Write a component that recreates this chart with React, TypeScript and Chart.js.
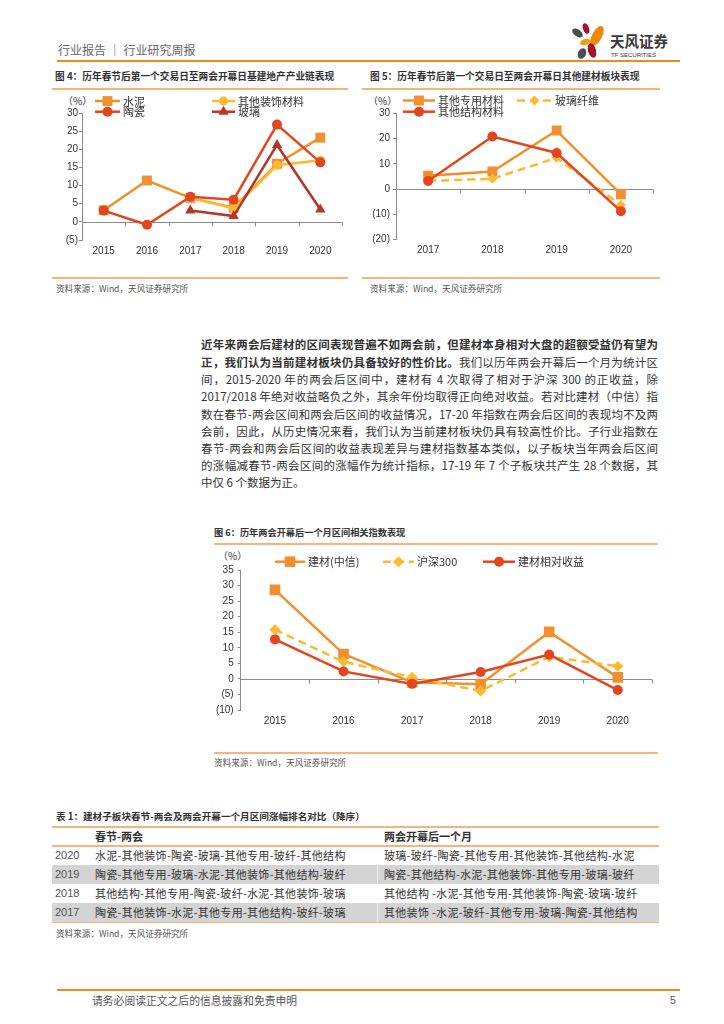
import React, { useEffect, useRef } from 'react';
import { Chart, registerables } from 'chart.js';

Chart.register(...registerables);

// ---------------- data ----------------
const YEARS_6 = ['2015', '2016', '2017', '2018', '2019', '2020'];
const YEARS_4 = ['2017', '2018', '2019', '2020'];

// Figure 4
const CEMENT = [3.2, 11.4, 6.6, 3.9, 16.0, 23.2];
const DECOR = [null, null, 6.6, 3.7, 15.6, 17.0];
const CERAMIC = [3.1, -0.8, 6.9, 6.1, 26.8, 16.4];
const GLASS = [null, null, 3.1, 1.6, 21.2, 3.4];

// Figure 5
const SPECIAL = [5.3, 7.0, 23.2, -2.0];
const FIBER = [3.3, 4.1, 12.4, -6.3];
const STRUCT = [3.2, 20.8, 14.3, -8.7];

// Figure 6
const BM_CITIC = [28.6, 8.0, -1.1, -1.7, 15.1, 0.5];
const HS300 = [15.8, 5.5, 0.5, -3.9, 7.1, 4.1];
const RELATIVE = [12.7, 2.4, -1.6, 2.2, 7.8, -3.6];

// Table 1
const TABLE_YEARS = ['2020', '2019', '2018', '2017'];
const TABLE_BEFORE = [
  '水泥-其他装饰-陶瓷-玻璃-其他专用-玻纤-其他结构',
  '陶瓷-其他专用-玻璃-水泥-其他装饰-其他结构-玻纤',
  '其他结构-其他专用-陶瓷-玻纤-水泥-其他装饰-玻璃',
  '陶瓷-其他装饰-水泥-其他专用-其他结构-玻纤-玻璃',
];
const TABLE_AFTER = [
  '玻璃-玻纤-陶瓷-其他专用-其他装饰-其他结构-水泥',
  '陶瓷-其他结构-水泥-其他装饰-其他专用-玻璃-玻纤',
  '其他结构 -水泥-其他专用-其他装饰-陶瓷-玻璃-玻纤',
  '其他装饰 -水泥-玻纤-其他专用-玻璃-陶瓷-其他结构',
];

// ---------------- styles ----------------
const ORANGE = '#F3902E';
const YELLOW = '#FDBA30';
const RED = '#E2461E';
const DARKRED = '#B3372B';
const RULE = '#F6B37C';
const CJK = '"Noto Sans CJK SC", "Noto Sans", sans-serif';
const LAT = '"Liberation Sans", Arial, sans-serif';

function drawMarker(ctx: CanvasRenderingContext2D, style: string, x: number, y: number, r: number, color: string) {
  ctx.save();
  ctx.fillStyle = color;
  ctx.beginPath();
  if (style === 'rect') {
    const s = r * Math.SQRT1_2;
    ctx.rect(x - s, y - s, 2 * s, 2 * s);
  } else if (style === 'triangle') {
    let a = 0;
    ctx.moveTo(x + Math.sin(a) * r, y - Math.cos(a) * r);
    a += (2 * Math.PI) / 3;
    ctx.lineTo(x + Math.sin(a) * r, y - Math.cos(a) * r);
    a += (2 * Math.PI) / 3;
    ctx.lineTo(x + Math.sin(a) * r, y - Math.cos(a) * r);
    ctx.closePath();
  } else if (style === 'rectRot') {
    ctx.moveTo(x, y - r);
    ctx.lineTo(x + r, y);
    ctx.lineTo(x, y + r);
    ctx.lineTo(x - r, y);
    ctx.closePath();
  } else {
    ctx.arc(x, y, r, 0, Math.PI * 2);
  }
  ctx.fill();
  ctx.restore();
}

const legendPlugin = {
  id: 'pageLegend',
  afterDraw(chart: any, _args: any, opts: any) {
    const items = (opts && opts.items) || [];
    const ctx = chart.ctx as CanvasRenderingContext2D;
    items.forEach((it: any) => {
      const ds = chart.data.datasets[it.ds];
      ctx.save();
      ctx.strokeStyle = ds.borderColor;
      ctx.lineWidth = ds.borderWidth;
      ctx.setLineDash(ds.borderDash || []);
      ctx.beginPath();
      ctx.moveTo(it.x, it.y);
      ctx.lineTo(it.x + it.len, it.y);
      ctx.stroke();
      ctx.setLineDash([]);
      drawMarker(ctx, ds.pointStyle, it.x + it.len / 2, it.y, ds.pointRadius, ds.backgroundColor);
      ctx.fillStyle = '#333';
      ctx.font = opts.font;
      ctx.textBaseline = 'middle';
      ctx.textAlign = 'left';
      ctx.fillText(ds.label, it.x + it.len + 3, it.y + 0.5);
      ctx.restore();
    });
  },
};

const zeroAxisPlugin = {
  id: 'zeroAxis',
  beforeDatasetsDraw(chart: any) {
    const { ctx, chartArea: a, scales } = chart;
    const y0 = Math.round(scales.y.getPixelForValue(0)) + 0.5;
    const n = chart.data.labels.length;
    ctx.save();
    ctx.strokeStyle = '#8c8c8c';
    ctx.lineWidth = 1;
    ctx.beginPath();
    ctx.moveTo(a.left, y0);
    ctx.lineTo(a.right, y0);
    for (let i = 1; i <= n; i++) {
      const x = Math.round(a.left + ((a.right - a.left) * i) / n) + 0.5;
      ctx.moveTo(x, y0);
      ctx.lineTo(x, y0 + 4);
    }
    ctx.stroke();
    ctx.restore();
  },
};

type Geo = { left: number; top: number; width: number; height: number; l: number; t: number; r: number; b: number };

function series(label: string, data: (number | null)[], color: string, style: string, radius: number, order: number, dash?: number[]) {
  return {
    label,
    data,
    borderColor: color,
    backgroundColor: color,
    pointBackgroundColor: color,
    pointBorderColor: color,
    pointBorderWidth: 0,
    borderWidth: 2.5,
    pointStyle: style,
    pointRadius: radius,
    borderDash: dash || [],
    order,
    tension: 0,
    spanGaps: false,
  };
}

function makeConfig(labels: string[], datasets: any[], yMin: number, yMax: number, step: number, g: Geo, legend: any[], legendFont: string, tickPad: number) {
  const items = legend.map((it) => ({ ...it, x: it.x - g.left, y: it.y - g.top }));
  const l = g.l - g.left, t = g.t - g.top, r = g.r - g.left, b = g.b - g.top;
  return {
    type: 'line',
    data: { labels, datasets },
    options: {
      responsive: false,
      animation: false,
      devicePixelRatio: 1,
      layout: { padding: { left: 0, top: t, right: g.width - r, bottom: 0 } },
      plugins: {
        legend: { display: false },
        tooltip: { enabled: false },
        pageLegend: { items, font: legendFont },
      },
      scales: {
        x: {
          type: 'category',
          offset: true,
          grid: { display: false, drawTicks: false },
          border: { display: false },
          ticks: { color: '#333', font: { family: LAT, size: 10 }, padding: 5, maxRotation: 0, autoSkip: false },
          afterFit: (s: any) => {
            s.height = g.height - b;
            s.paddingLeft = 0;
            s.paddingRight = 0;
          },
        },
        y: {
          min: yMin,
          max: yMax,
          ticks: {
            stepSize: step,
            color: '#333',
            font: { family: LAT, size: 10 },
            padding: tickPad,
            callback: (v: any) => (v < 0 ? `(${-v})` : `${v}`),
          },
          grid: { drawOnChartArea: false, drawTicks: true, tickLength: 3, color: '#8c8c8c' },
          border: { display: true, color: '#8c8c8c' },
          afterFit: (s: any) => {
            s.width = l;
            s.paddingTop = 0;
            s.paddingBottom = 0;
          },
        },
      },
    },
    plugins: [zeroAxisPlugin, legendPlugin],
  };
}

function ChartBox({ geo, build }: { geo: Geo; build: () => any }) {
  const ref = useRef<HTMLCanvasElement>(null);
  useEffect(() => {
    const chart = new Chart(ref.current as HTMLCanvasElement, build());
    return () => chart.destroy();
  }, []);
  return (
    <canvas
      ref={ref}
      width={geo.width}
      height={geo.height}
      style={{ position: 'absolute', left: geo.left, top: geo.top, width: geo.width, height: geo.height }}
    />
  );
}

const GEO4: Geo = { left: 52, top: 92, width: 298, height: 180, l: 82, t: 113, r: 342, b: 240 };
const GEO5: Geo = { left: 362, top: 92, width: 298, height: 180, l: 396, t: 113.3, r: 653, b: 239.7 };
const GEO6: Geo = { left: 205, top: 548, width: 455, height: 190, l: 240.7, t: 570, r: 652, b: 710 };

const build4 = () =>
  makeConfig(
    YEARS_6,
    [
      series('水泥', CEMENT, ORANGE, 'rect', 7, 3),
      series('其他装饰材料', DECOR, YELLOW, 'circle', 4.5, 2),
      series('陶瓷', CERAMIC, RED, 'circle', 5, 1),
      series('玻璃', GLASS, DARKRED, 'triangle', 6, 0),
    ],
    -5, 30, 5, GEO4,
    [
      { ds: 0, x: 95, y: 101, len: 25 },
      { ds: 1, x: 212, y: 101, len: 23 },
      { ds: 2, x: 95, y: 111.7, len: 25 },
      { ds: 3, x: 212, y: 111.7, len: 23 },
    ],
    `11px ${CJK}`, 1
  );

const build5 = () =>
  makeConfig(
    YEARS_4,
    [
      series('其他专用材料', SPECIAL, ORANGE, 'rect', 7, 2),
      series('玻璃纤维', FIBER, YELLOW, 'rectRot', 5, 1, [8, 5]),
      series('其他结构材料', STRUCT, RED, 'circle', 5, 0),
    ],
    -20, 30, 10, GEO5,
    [
      { ds: 0, x: 403, y: 100.5, len: 32 },
      { ds: 1, x: 517, y: 100.5, len: 35 },
      { ds: 2, x: 403, y: 111.7, len: 32 },
    ],
    `11px ${CJK}`, 3
  );

const build6 = () =>
  makeConfig(
    YEARS_6,
    [
      series('建材(中信)', BM_CITIC, ORANGE, 'rect', 7.5, 2),
      series('沪深300', HS300, YELLOW, 'rectRot', 5.5, 1, [8, 5]),
      series('建材相对收益', RELATIVE, RED, 'circle', 5, 0),
    ],
    -10, 35, 5, GEO6,
    [
      { ds: 0, x: 275, y: 561.7, len: 30 },
      { ds: 1, x: 383, y: 561.7, len: 31 },
      { ds: 2, x: 483, y: 561.7, len: 32 },
    ],
    `11px ${CJK}`, 4
  );

// ---------------- page helpers ----------------
function Txt(props: { x: number; y: number; size: number; color?: string; bold?: boolean; family?: string; children: any; style?: any }) {
  const { x, y, size, color = '#333', bold = false, family = CJK, children, style } = props;
  return (
    <div
      style={{
        position: 'absolute',
        left: x,
        top: y - size * 0.6,
        fontSize: size,
        lineHeight: `${size * 1.2}px`,
        color,
        fontWeight: bold ? 700 : 400,
        fontFamily: family,
        whiteSpace: 'nowrap',
        ...style,
      }}
    >
      {children}
    </div>
  );
}

function Rule({ x, y, w, h = 1.5, color = RULE }: { x: number; y: number; w: number; h?: number; color?: string }) {
  return <div style={{ position: 'absolute', left: x, top: y, width: w, height: h, background: color }} />;
}

function Petal({ cx, cy, w, h, rot, color }: { cx: number; cy: number; w: number; h: number; rot: number; color: string }) {
  return (
    <div
      style={{
        position: 'absolute',
        left: cx - w / 2,
        top: cy - h / 2,
        width: w,
        height: h,
        borderRadius: '50%',
        background: color,
        transform: `rotate(${rot}deg)`,
      }}
    />
  );
}

const PARA_Y = [344, 361.5, 379, 396.3, 413.5, 430.7, 447.7, 464.7, 481.7];
const PARA: any[] = [
  <b key="b1">近年来两会后建材的区间表现普遍不如两会前，但建材本身相对大盘的超额受益仍有望为</b>,
  <>
    <b>正，我们认为当前建材板块仍具备较好的性价比。</b>我们以历年两会开幕后一个月为统计区
  </>,
  '间，2015-2020 年的两会后区间中，建材有 4 次取得了相对于沪深 300 的正收益，除',
  '2017/2018 年绝对收益略负之外，其余年份均取得正向绝对收益。若对比建材（中信）指',
  '数在春节-两会区间和两会后区间的收益情况，17-20 年指数在两会后区间的表现均不及两',
  '会前，因此，从历史情况来看，我们认为当前建材板块仍具有较高性价比。子行业指数在',
  '春节-两会和两会后区间的收益表现差异与建材指数基本类似，以子板块当年两会后区间',
  '的涨幅减春节-两会区间的涨幅作为统计指标，17-19 年 7 个子板块共产生 28 个数据，其',
  '中仅 6 个数据为正。',
];

const SOURCE = '资料来源：Wind，天风证券研究所';

export default function App() {
  const rowY = [846, 865, 884, 903];
  return (
    <div
      style={{
        position: 'absolute',
        left: 0,
        top: 0,
        width: 724,
        height: 1024,
        background: '#fff',
        overflow: 'hidden',
        fontFamily: CJK,
      }}
    >
      {/* header */}
      <Txt x={58} y={50} size={12} color="#666">
        行业报告 ｜ 行业研究周报
      </Txt>
      <Rule x={57} y={60} w={623} h={2} color="#EF8A1E" />
      <Petal cx={586} cy={28} w={6} h={11} rot={-20} color="#A4122E" />
      <Petal cx={597} cy={36} w={10} h={22} rot={28} color="#EE8A0A" />
      <Petal cx={577} cy={33} w={7} h={12} rot={-55} color="#4D4D4D" />
      <Petal cx={585} cy={41.5} w={11} h={6} rot={-15} color="#F2A012" />
      <Petal cx={592} cy={50} w={8} h={15} rot={-15} color="#A4122E" />
      <Petal cx={582} cy={53} w={8} h={11} rot={25} color="#4D4D4D" />
      <Txt x={610} y={41} size={14.5} bold color="#3a3a3a">
        天风证券
      </Txt>
      <Txt x={611} y={55.5} size={6} family={LAT} color="#333">
        TF SECURITIES
      </Txt>

      {/* figure 4 */}
      <Txt x={55} y={77} size={9.7} bold color="#333">
        图 4：历年春节后第一个交易日至两会开幕日基建地产产业链表现
      </Txt>
      <Rule x={52} y={88} w={296} />
      <Txt x={63} y={101} size={10} color="#333">
        （%）
      </Txt>
      <ChartBox geo={GEO4} build={build4} />
      <Rule x={52} y={277} w={296} />
      <Txt x={56} y={288} size={8.6} color="#555">
        {SOURCE}
      </Txt>

      {/* figure 5 */}
      <Txt x={370} y={77} size={9.7} bold color="#333">
        图 5：历年春节后第一个交易日至两会开幕日其他建材板块表现
      </Txt>
      <Rule x={362} y={88} w={298} />
      <Txt x={368} y={100.5} size={10} color="#333">
        （%）
      </Txt>
      <ChartBox geo={GEO5} build={build5} />
      <Rule x={362} y={277} w={298} />
      <Txt x={370} y={288} size={8.6} color="#555">
        {SOURCE}
      </Txt>

      {/* paragraph */}
      {PARA.map((line, i) => (
        <div
          key={i}
          style={{
            position: 'absolute',
            left: 201,
            top: PARA_Y[i] - 7,
            width: 457,
            fontSize: 11.5,
            lineHeight: '14px',
            color: '#333',
            textAlign: i < 8 ? 'justify' : 'left',
            textAlignLast: i < 8 ? 'justify' : 'left',
          }}
        >
          {line}
        </div>
      ))}

      {/* figure 6 */}
      <Txt x={214} y={533} size={9.2} bold color="#333">
        图 6：历年两会开幕后一个月区间相关指数表现
      </Txt>
      <Rule x={214} y={543} w={444} />
      <Txt x={218} y={556} size={10} color="#333">
        （%）
      </Txt>
      <ChartBox geo={GEO6} build={build6} />
      <Rule x={214} y={752} w={444} />
      <Txt x={214} y={762} size={8.6} color="#555">
        {SOURCE}
      </Txt>

      {/* table */}
      <Txt x={56} y={817} size={9.6} bold color="#333">
        表 1：建材子板块春节-两会及两会开幕一个月区间涨幅排名对比（降序）
      </Txt>
      <Rule x={52} y={826} w={607} />
      <Txt x={95} y={836.5} size={11} bold color="#333">
        春节-两会
      </Txt>
      <Txt x={384} y={836.5} size={11} bold color="#333">
        两会开幕后一个月
      </Txt>
      <Rule x={52} y={845} w={607} />
      {TABLE_YEARS.map((yr, i) => (
        <React.Fragment key={yr}>
          {i % 2 === 1 && (
            <>
              <div style={{ position: 'absolute', left: 52, top: rowY[i], width: 607, height: 18.5, background: '#D4D4D4' }} />
              <div style={{ position: 'absolute', left: 377, top: rowY[i], width: 1, height: 18.5, background: '#ECECEC' }} />
            </>
          )}
          <Txt x={55} y={rowY[i] + 9.5} size={11} family={LAT} color="#555">
            {yr}
          </Txt>
          <Txt x={95} y={rowY[i] + 9.5} size={11} color="#333" style={{ letterSpacing: '0.3px' }}>
            {TABLE_BEFORE[i]}
          </Txt>
          <Txt x={384} y={rowY[i] + 9.5} size={11} color="#333" style={{ letterSpacing: '0.3px' }}>
            {TABLE_AFTER[i]}
          </Txt>
        </React.Fragment>
      ))}
      <Rule x={52} y={921.5} w={607} />
      <Txt x={56} y={933} size={8.6} color="#555">
        {SOURCE}
      </Txt>

      {/* footer */}
      <Rule x={57} y={988.5} w={623} h={2} color="#EF8A1E" />
      <Txt x={92} y={1000} size={10.8} color="#555">
        请务必阅读正文之后的信息披露和免责申明
      </Txt>
      <Txt x={670} y={1000} size={10.5} family={LAT} color="#555">
        5
      </Txt>
    </div>
  );
}
